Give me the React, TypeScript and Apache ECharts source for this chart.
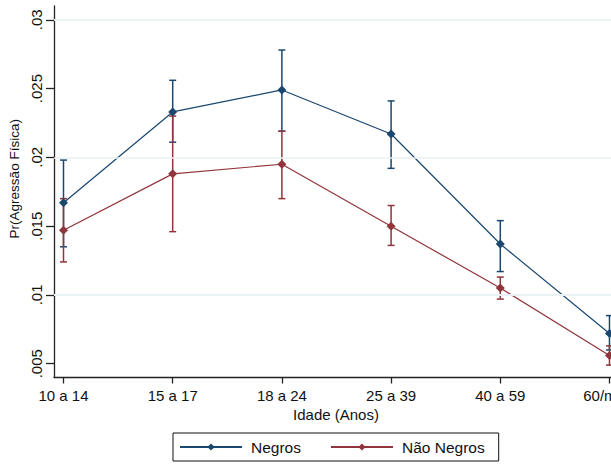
import React, { useEffect, useRef } from "react";
import * as echarts from "echarts";

const categories = ["10 a 14", "15 a 17", "18 a 24", "25 a 39", "40 a 59", "60/mais"];
const negros = [0.0167, 0.0233, 0.0249, 0.0217, 0.0137, 0.0072];
const negrosLow = [0.0135, 0.0211, 0.0219, 0.0192, 0.0117, 0.006];
const negrosHigh = [0.0198, 0.0256, 0.0278, 0.0241, 0.0154, 0.0085];
const naoNegros = [0.0147, 0.0188, 0.0195, 0.015, 0.0105, 0.0056];
const naoNegrosLow = [0.0124, 0.0146, 0.017, 0.0136, 0.0097, 0.0049];
const naoNegrosHigh = [0.017, 0.023, 0.0219, 0.0165, 0.0113, 0.0063];
const yTicks = [0.005, 0.01, 0.015, 0.02, 0.025, 0.03];
const xTicks = [1, 2, 3, 4, 5, 6];

const BLUE = "#1a476f";
const RED = "#90353b";

function hasFont(name: string): boolean {
  const ctx = document.createElement("canvas").getContext("2d");
  if (!ctx) return false;
  ctx.font = "20px monospace";
  const a = ctx.measureText("abcdefgh 10 a 14 Negros").width;
  ctx.font = `20px "${name}", monospace`;
  const b = ctx.measureText("abcdefgh 10 a 14 Negros").width;
  return a !== b;
}

export default function App() {
  const ref = useRef<HTMLDivElement>(null);
  useEffect(() => {
    if (!ref.current) return;
    const chart = echarts.init(ref.current, null, { renderer: "svg" });
    const narrow = hasFont("Liberation Sans Narrow");
    const nFont = narrow ? "'Liberation Sans Narrow', 'Liberation Sans', Arial, sans-serif" : "'Liberation Sans', Arial, sans-serif";
    const nSize = narrow ? 17 : 15;
    const legSize = narrow ? 18 : 15.5;
    const rFont = "'Liberation Sans', Arial, sans-serif";

    const errSeries = (name: string, lo: number[], hi: number[], color: string) => ({
      type: "custom",
      name,
      silent: true,
      z: 2,
      data: categories.map((_, i) => [i + 1, lo[i], hi[i]]),
      encode: { x: 0, y: [1, 2] },
      renderItem: (params: any, api: any) => {
        const x = api.value(0);
        const pLo = api.coord([x, api.value(1)]);
        const pHi = api.coord([x, api.value(2)]);
        const h = 3.5;
        const style = { stroke: color, lineWidth: 1.5, fill: "none" };
        return {
          type: "group",
          children: [
            { type: "line", shape: { x1: pLo[0], y1: pLo[1], x2: pHi[0], y2: pHi[1] }, style },
            { type: "line", shape: { x1: pLo[0] - h, y1: pLo[1], x2: pLo[0] + h, y2: pLo[1] }, style },
            { type: "line", shape: { x1: pHi[0] - h, y1: pHi[1], x2: pHi[0] + h, y2: pHi[1] }, style },
          ],
        };
      },
    });

    const lineSeries = (name: string, vals: number[], color: string) => ({
      type: "line",
      name,
      z: 3,
      data: categories.map((_, i) => [i + 1, vals[i]]),
      symbol: "diamond",
      symbolSize: 9,
      lineStyle: { color, width: 1.2 },
      itemStyle: { color },
    });

    chart.setOption({
      animation: false,
      backgroundColor: "#ffffff",
      grid: { left: 54, top: 6, bottom: 88.5, right: -7, containLabel: false, outerBoundsMode: "none" },
      xAxis: {
        type: "value",
        min: 0.913,
        max: 6.078,
        name: "Idade (Anos)",
        nameLocation: "middle",
        nameGap: 25,
        nameTextStyle: { fontFamily: nFont, fontSize: nSize, color: "#111" },
        axisLine: { show: true, onZero: false, lineStyle: { color: "#222", width: 1.3 } },
        axisTick: { show: true, customValues: xTicks, length: 6, lineStyle: { color: "#222", width: 1.3 } },
        axisLabel: {
          customValues: xTicks,
          margin: 10,
          fontFamily: nFont,
          fontSize: nSize,
          color: "#111",
          formatter: (v: number) => categories[Math.round(v) - 1] ?? "",
        },
        splitLine: { show: false },
      },
      yAxis: {
        type: "value",
        min: 0.004,
        max: 0.031,
        name: "Pr(Agressão Física)",
        nameLocation: "middle",
        nameRotate: 90,
        nameGap: 32,
        nameTextStyle: { fontFamily: rFont, fontSize: 13.5, color: "#111", padding: [0, 0, 0, 26] },
        axisLine: { show: true, onZero: false, lineStyle: { color: "#222", width: 1.3 } },
        axisTick: { show: true, customValues: yTicks, length: 8, lineStyle: { color: "#222", width: 1.3 } },
        axisLabel: {
          customValues: yTicks,
          rotate: 90,
          margin: 10,
          fontFamily: rFont,
          fontSize: 15,
          color: "#111",
          formatter: (v: number) => String(Number(v.toFixed(3))).replace(/^0/, ""),
        },
        splitLine: { show: false },
      },
      legend: {
        data: ["Negros", "Não Negros"],
        left: 173,
        top: 433,
        orient: "horizontal",
        padding: [6, 14, 6, 6],
        borderColor: "#111",
        borderWidth: 1,
        borderRadius: 0,
        itemWidth: 62,
        itemHeight: 9,
        itemGap: 29,
        textStyle: { fontFamily: nFont, fontSize: legSize, color: "#111", padding: [0, 0, 0, 4] },
      },
      series: [
        {
          type: "line",
          name: "grid",
          data: [],
          silent: true,
          z: 1,
          markLine: {
            silent: true,
            symbol: "none",
            label: { show: false },
            lineStyle: { color: "#eaf2f3", width: 1.5, type: "solid" },
            data: yTicks.map((v) => ({ yAxis: v })),
          },
        },
        errSeries("ic_negros", negrosLow, negrosHigh, BLUE),
        errSeries("ic_nao", naoNegrosLow, naoNegrosHigh, RED),
        lineSeries("Negros", negros, BLUE),
        lineSeries("Não Negros", naoNegros, RED),
      ],
    });
    return () => chart.dispose();
  }, []);
  return <div ref={ref} style={{ position: "absolute", left: 0, top: 0, width: 611, height: 466 }} />;
}
